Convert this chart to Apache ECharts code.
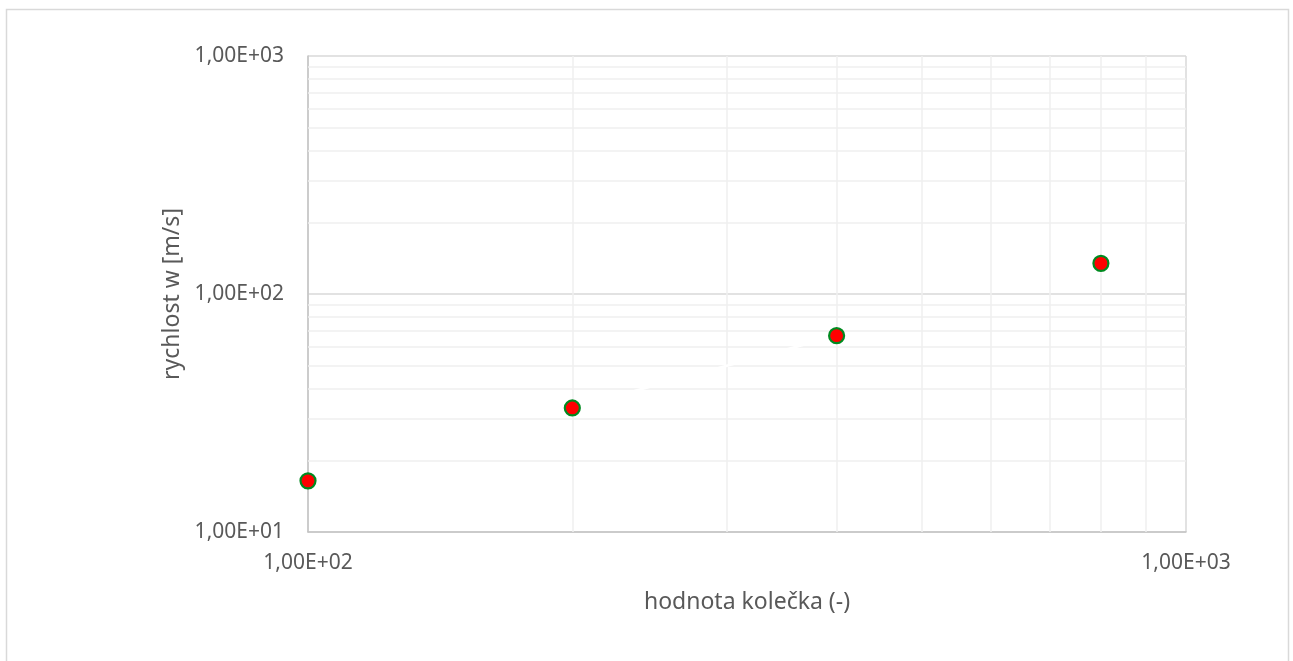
<!DOCTYPE html>
<html>
<head>
<meta charset="utf-8">
<title>rychlost w vs. hodnota kolečka</title>
<script src="https://cdn.jsdelivr.net/npm/echarts@6/dist/echarts.min.js"></script>
<style>
  html, body { margin: 0; padding: 0; background: #ffffff; }
  #chart { width: 1293px; height: 661px; }
</style>
</head>
<body>
<div id="chart"></div>
<script>
// measured values: wheel setting (x) and speed w in m/s (y)
const wheelValues = [100, 200, 400, 800];
const speedValues = [16.4, 33.2, 66.8, 134.5];

// axis ranges and minor grid positions (log scale, 2..9 per decade)
const xRange = [100, 1000];
const yRange = [10, 1000];
const xMinorGrid = [200, 300, 400, 500, 600, 700, 800, 900];
const yMinorGrid = [20, 30, 40, 50, 60, 70, 80, 90, 200, 300, 400, 500, 600, 700, 800, 900];

const axisTitleX = 'hodnota kolečka (-)';
const axisTitleY = 'rychlost w [m/s]';

const textColor = '#595959';
const fontFamily = '"Noto Sans", "Open Sans", sans-serif';

// Excel-style scientific label, e.g. 1000 -> "1,00E+03"
function sciLabel(v) {
  const exp = Math.round(Math.log10(v));
  const mant = v / Math.pow(10, exp);
  const e = (exp >= 0 ? '+' : '-') + String(Math.abs(exp)).padStart(2, '0');
  return mant.toFixed(2).replace('.', ',') + 'E' + e;
}

const points = wheelValues.map((x, i) => [x, speedValues[i]]);
// white connector between the 2nd and 3rd measurement
const connector = points.slice(1, 3);

const minorLines = []
  .concat(xMinorGrid.map(v => ({ xAxis: v })))
  .concat(yMinorGrid.map(v => ({ yAxis: v })));

const chart = echarts.init(document.getElementById('chart'), null, { renderer: 'canvas' });

chart.setOption({
  animation: false,
  backgroundColor: '#ffffff',
  textStyle: { fontFamily: fontFamily },
  grid: { left: 308, right: 107, top: 56, bottom: 129, containLabel: false },
  graphic: [{
    type: 'rect',
    silent: true,
    shape: { x: 6.5, y: 9.5, width: 1282, height: 700 },
    style: { fill: 'none', stroke: '#d9d9d9', lineWidth: 1.5 }
  }],
  xAxis: {
    type: 'log',
    logBase: 10,
    min: xRange[0],
    max: xRange[1],
    name: axisTitleX,
    nameLocation: 'middle',
    nameGap: 59,
    nameTextStyle: { color: textColor, fontSize: 23, fontFamily: fontFamily },
    axisLine: { show: true, lineStyle: { color: '#c4c4c4', width: 1.5 } },
    axisTick: { show: false },
    axisLabel: { color: textColor, fontSize: 21, margin: 21, fontFamily: fontFamily, formatter: sciLabel },
    splitLine: { show: true, lineStyle: { color: '#d9d9d9', width: 1.5 } }
  },
  yAxis: {
    type: 'log',
    logBase: 10,
    min: yRange[0],
    max: yRange[1],
    name: axisTitleY,
    nameLocation: 'middle',
    nameGap: 122,
    nameTextStyle: { color: textColor, fontSize: 23, fontFamily: fontFamily },
    axisLine: { show: true, lineStyle: { color: '#c4c4c4', width: 1.5 } },
    axisTick: { show: false },
    axisLabel: { color: textColor, fontSize: 21, margin: 24, fontFamily: fontFamily, formatter: sciLabel },
    splitLine: { show: true, lineStyle: { color: '#d9d9d9', width: 1.5 } }
  },
  series: [
    {
      // carrier for the minor grid lines
      type: 'line',
      data: points,
      showSymbol: false,
      silent: true,
      z: 1,
      lineStyle: { opacity: 0 },
      markLine: {
        z: 1,
        silent: true,
        symbol: ['none', 'none'],
        label: { show: false },
        animation: false,
        lineStyle: { color: '#efefef', width: 1.5, type: 'solid' },
        emphasis: { disabled: true },
        data: minorLines
      }
    },
    {
      type: 'line',
      data: connector,
      showSymbol: false,
      silent: true,
      z: 2,
      lineStyle: { color: '#ffffff', width: 2.5 }
    },
    {
      type: 'scatter',
      data: points,
      symbol: 'circle',
      symbolSize: 15,
      z: 3,
      itemStyle: { color: '#ff0000', borderColor: '#008a20', borderWidth: 2.2, opacity: 1 }
    }
  ]
});
</script>
</body>
</html>
